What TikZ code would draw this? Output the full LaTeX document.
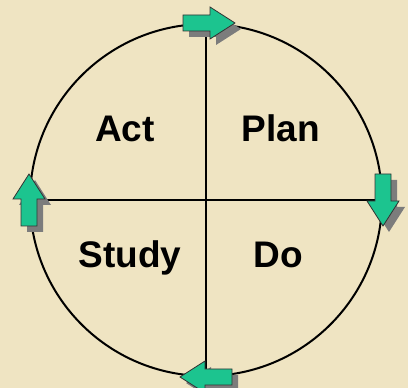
\documentclass[tikz,border=0pt]{standalone}
\usepackage{fontspec}
\setmainfont{Liberation Sans}
\definecolor{parch}{HTML}{EFE4C2}
\definecolor{teal}{HTML}{1CC48F}
\definecolor{shad}{HTML}{7C7C7C}
\newcommand\pdsaarrow[2]{%
  \fill[shad, shift={(#1)}, xshift=6pt, yshift=-6pt, rotate=#2]
    (-26,-8) -- (1,-8) -- (1,-16) -- (26,0) -- (1,16) -- (1,8) -- (-26,8) -- cycle;
  \filldraw[fill=teal, draw=black!80, line width=0.8pt, line join=miter, shift={(#1)}, rotate=#2]
    (-26,-8) -- (1,-8) -- (1,-16) -- (26,0) -- (1,16) -- (1,8) -- (-26,8) -- cycle;
}
\begin{document}
\begin{tikzpicture}[x=1pt,y=1pt,
  ring/.style={circle, draw=black, line width=2pt, minimum size=352pt, inner sep=0pt},
  divider/.style={draw=black, line width=2pt},
  label/.style={font=\bfseries\fontsize{37}{40}\selectfont, anchor=base, inner sep=0pt}]
\fill[parch] (0,0) rectangle (408,388);
\useasboundingbox (0,0) rectangle (408,388);
\node[ring] (c) at (206,188) {};
\draw[divider] (c.north) -- (c.south);
\draw[divider] (c.west) -- (c.east);
\node[label] (act) at (125,246) {Act};
\node[label] (plan) at (281,246) {Plan};
\node[label] (study) at (130,120) {Study};
\node[label] (do) at (278,120) {Do};
\coordinate (topa) at ([xshift=3pt]c.north);
\pdsaarrow{topa}{0}
\pdsaarrow{c.east}{-90}
\pdsaarrow{c.south}{180}
\pdsaarrow{c.west}{90}
\end{tikzpicture}
\end{document}
